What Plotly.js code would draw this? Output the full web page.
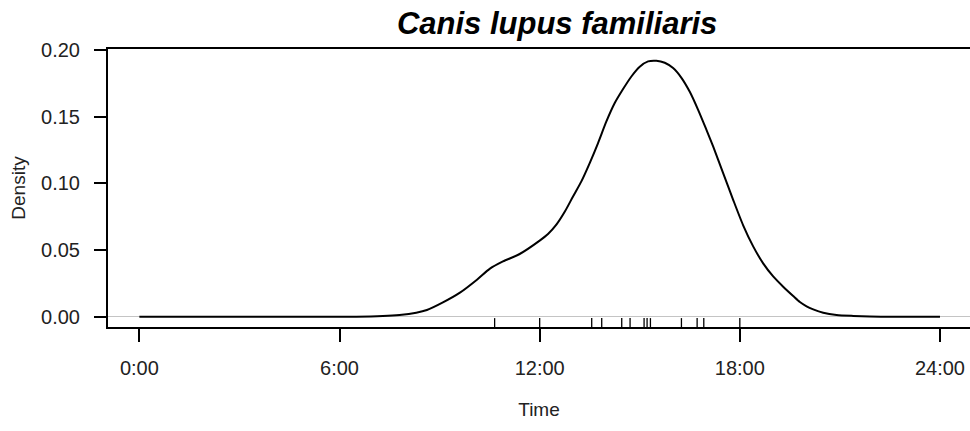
<!DOCTYPE html>
<html>
<head>
<meta charset="utf-8">
<script src="https://cdn.plot.ly/plotly-3.0.1.min.js"></script>
<style>html,body{margin:0;padding:0;background:#fff;}#chart{width:970px;height:431px;}</style>
</head>
<body>
<div id="chart"></div>
<script>
// Density curve (hours of day, density)
var hours = [0, 6.5, 7.3, 7.8, 8.3, 8.62, 9.1, 9.61, 10.12, 10.51, 10.9, 11.4, 12.0, 12.25, 12.5, 12.76, 13.0, 13.25, 13.5, 13.75, 14.0, 14.25, 14.5, 14.75, 15.0, 15.25, 15.5, 15.75, 16.0, 16.25, 16.5, 16.75, 17.0, 17.2, 17.5, 17.8, 18.1, 18.4, 18.7, 19.0, 19.3, 19.6, 19.8, 20.0, 20.2, 20.5, 20.9, 21.4, 21.9, 22.5, 24];
var density = [0, 0, 0.0005, 0.0013, 0.003, 0.005, 0.0107, 0.018, 0.0277, 0.036, 0.0414, 0.047, 0.057, 0.062, 0.069, 0.079, 0.0901, 0.1014, 0.1151, 0.1301, 0.1463, 0.1601, 0.1706, 0.180, 0.1873, 0.1913, 0.1918, 0.1903, 0.1863, 0.179, 0.1685, 0.155, 0.140, 0.1276, 0.1076, 0.0876, 0.0685, 0.0527, 0.040, 0.0302, 0.0225, 0.0155, 0.011, 0.0078, 0.0055, 0.003, 0.0013, 0.0006, 0.0002, 0, 0];
// Observation times (rug)
var obsTimes = [10.65, 12.0, 13.56, 13.86, 14.46, 14.71, 15.13, 15.22, 15.32, 16.25, 16.72, 16.92, 18.0];
// Tick labels
var xTickVals = [0, 6, 12, 18, 24];
var xTickText = ['0:00', '6:00', '12:00', '18:00', '24:00'];
var yTickVals = [0, 0.05, 0.10, 0.15, 0.20];
var yTickText = ['0.00', '0.05', '0.10', '0.15', '0.20'];
var titleText = '<b><i>Canis lupus familiaris</i></b>';

var FONT = 'Arial, "Liberation Sans", sans-serif';

var rugShapes = obsTimes.map(function (t) {
  return {type: 'line', xref: 'x', yref: 'paper', x0: t, x1: t, y0: 0, y1: 0.032,
          line: {color: '#000', width: 1.3}};
});

var trace = {
  x: hours, y: density, type: 'scatter', mode: 'lines',
  line: {color: '#000', width: 2, shape: 'spline', smoothing: 0.7},
  hoverinfo: 'skip'
};

var layout = {
  width: 970, height: 431,
  margin: {l: 108, r: 0, t: 49, b: 104, pad: 0},
  paper_bgcolor: '#fff', plot_bgcolor: '#fff',
  showlegend: false,
  font: {family: FONT, color: '#000', size: 20},
  title: {text: titleText, font: {family: FONT, size: 31, color: '#000'},
          xref: 'paper', x: 0.521, xanchor: 'center',
          yref: 'container', y: 1 - 23 / 431, yanchor: 'middle'},
  xaxis: {
    range: [-0.94, 24.9], showgrid: false, zeroline: false,
    showline: true, linecolor: '#000', linewidth: 2, mirror: true,
    tickmode: 'array', tickvals: xTickVals, ticktext: xTickText,
    ticks: 'outside', ticklen: 13, tickwidth: 2, tickcolor: '#000',
    ticklabelstandoff: 9,
    tickfont: {size: 20, family: FONT, color: '#222'},
    title: {text: 'Time', font: {size: 19, family: FONT, color: '#222'}, standoff: 25}
  },
  yaxis: {
    range: [-0.0077, 0.2006], showgrid: false,
    zeroline: true, zerolinecolor: '#c4c4c4', zerolinewidth: 1.5,
    showline: true, linecolor: '#000', linewidth: 2, mirror: false,
    tickmode: 'array', tickvals: yTickVals, ticktext: yTickText,
    ticks: 'outside', ticklen: 12, tickwidth: 2, tickcolor: '#000',
    ticklabelstandoff: 10,
    tickfont: {size: 20, family: FONT, color: '#222'},
    title: {text: 'Density', font: {size: 19, family: FONT, color: '#222'}, standoff: 10}
  },
  shapes: rugShapes
};

Plotly.newPlot('chart', [trace], layout, {displayModeBar: false, staticPlot: true});
</script>
</body>
</html>
